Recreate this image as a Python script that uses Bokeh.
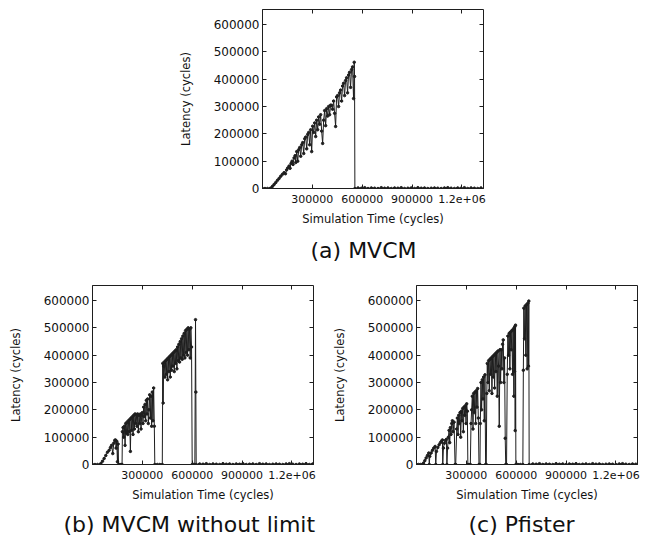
from bokeh.plotting import figure
from bokeh.layouts import column, row
from bokeh.models import FixedTicker, NumeralTickFormatter, LinearAxis, Title, Range1d
from bokeh.embed import file_html
from bokeh.resources import INLINE

# ---------------- data (thousands of cycles) ----------------
# (a) MVCM
A_TIME_K = [0, 15, 30, 45, 52, 60, 70, 80, 90, 100,
            110, 120, 130, 138, 145, 152, 160, 166, 172, 178,
            184, 190, 196, 200, 206, 212, 218, 224, 230, 236,
            242, 248, 254, 260, 266, 272, 278, 284, 290, 296,
            302, 308, 314, 320, 326, 332, 338, 344, 350, 356,
            362, 368, 374, 380, 386, 392, 398, 404, 410, 416,
            422, 428, 434, 440, 446, 452, 458, 464, 470, 476,
            482, 488, 494, 500, 506, 512, 518, 524, 530, 536,
            542, 548, 552, 554, 556, 575, 595, 615, 635, 655,
            675, 695, 715, 735, 755, 775, 795, 815, 835, 855,
            875, 895, 915, 935, 955, 975, 995, 1015, 1035, 1055,
            1075, 1095, 1115, 1135, 1155, 1175, 1195, 1215, 1235, 1255,
            1275, 1295, 1315]
A_LAT_K = [0, 0, 0, 0, 2, 8, 15, 22, 30, 37,
           45, 52, 58, 54, 68, 75, 82, 74, 92, 100,
           88, 112, 120, 95, 135, 100, 142, 150, 118, 160,
           168, 128, 182, 188, 145, 198, 205, 160, 215, 135,
           228, 205, 240, 190, 250, 215, 262, 235, 270, 210,
           165, 250, 285, 230, 292, 265, 300, 270, 305, 304,
           290, 320, 275, 227, 335, 340, 300, 350, 360, 320,
           375, 385, 340, 395, 405, 350, 415, 425, 370, 435,
           445, 329, 462, 410, 0, 2, 1, 3, 0, 2,
           1, 0, 3, 1, 2, 0, 2, 1, 3, 0,
           1, 2, 0, 3, 1, 2, 0, 1, 2, 1,
           0, 2, 3, 1, 0, 2, 1, 3, 0, 2,
           1, 0, 2]

# (b) MVCM without limit
B_TIME_K = [0, 15, 30, 45, 50, 60, 70, 80, 90, 100,
            108, 115, 122, 128, 134, 138, 142, 146, 150, 154,
            157, 165, 172, 178, 180, 184, 188, 192, 196, 200,
            204, 208, 212, 216, 220, 224, 228, 232, 236, 240,
            244, 248, 252, 256, 260, 264, 268, 272, 276, 280,
            284, 288, 292, 296, 300, 304, 308, 312, 316, 320,
            324, 328, 332, 336, 340, 344, 348, 352, 356, 360,
            364, 368, 372, 375, 390, 405, 420, 423, 425, 428,
            432, 436, 440, 444, 448, 452, 456, 460, 464, 468,
            472, 476, 480, 484, 488, 492, 496, 500, 504, 508,
            512, 516, 520, 524, 528, 532, 536, 540, 544, 548,
            552, 556, 560, 564, 568, 572, 576, 580, 584, 588,
            592, 596, 600, 608, 616, 620, 622, 624, 645, 665,
            685, 705, 725, 745, 765, 785, 805, 825, 845, 865,
            885, 905, 925, 945, 965, 985, 1005, 1025, 1045, 1065,
            1085, 1105, 1125, 1145, 1165, 1185, 1205, 1225, 1245, 1265,
            1285, 1305, 1325]
B_LAT_K = [0, 0, 0, 0, 3, 12, 22, 33, 45, 52,
           62, 70, 40, 78, 88, 90, 60, 85, 10, 75,
           0, 0, 0, 0, 120, 135, 100, 140, 70, 150,
           115, 155, 110, 160, 120, 165, 48, 170, 125, 175,
           110, 180, 130, 185, 150, 183, 140, 185, 120, 180,
           150, 185, 130, 180, 190, 150, 210, 175, 220, 160,
           235, 185, 240, 150, 200, 255, 170, 250, 140, 265,
           160, 280, 140, 0, 0, 0, 0, 370, 225, 360,
           375, 320, 380, 330, 385, 310, 390, 340, 395, 320,
           400, 345, 405, 360, 410, 340, 415, 370, 420, 350,
           430, 380, 440, 375, 450, 390, 460, 385, 470, 400,
           480, 390, 490, 410, 495, 400, 500, 420, 495, 390,
           500, 430, 0, 0, 0, 530, 265, 0, 2, 1,
           3, 0, 2, 1, 0, 3, 1, 2, 0, 2,
           1, 3, 0, 1, 2, 0, 3, 1, 2, 0,
           1, 2, 1, 0, 2, 3, 1, 0, 2, 1,
           3, 0, 2]

# (c) Pfister
C_TIME_K = [0, 12, 24, 36, 42, 50, 58, 66, 74, 77,
            80, 88, 96, 104, 112, 116, 120, 128, 136, 144,
            150, 156, 158, 162, 168, 174, 180, 183, 187, 192,
            196, 200, 204, 208, 212, 216, 220, 226, 232, 236,
            242, 246, 250, 254, 258, 262, 266, 270, 274, 278,
            282, 286, 290, 294, 298, 302, 306, 309, 316, 324,
            328, 332, 336, 340, 344, 348, 352, 356, 360, 364,
            368, 372, 376, 382, 384, 388, 392, 396, 400, 404,
            408, 412, 416, 420, 423, 426, 430, 434, 438, 442,
            446, 450, 454, 458, 462, 466, 470, 474, 478, 482,
            486, 490, 494, 498, 502, 506, 510, 514, 518, 522,
            526, 530, 534, 537, 542, 546, 550, 554, 558, 562,
            566, 570, 574, 578, 582, 586, 588, 590, 592, 594,
            596, 598, 610, 625, 640, 643, 646, 650, 654, 658,
            662, 666, 670, 674, 676, 678, 700, 720, 740, 760,
            780, 800, 820, 840, 860, 880, 900, 920, 940, 960,
            980, 1000, 1020, 1040, 1060, 1080, 1100, 1120, 1140, 1160,
            1180, 1200, 1220, 1240, 1260, 1280, 1300, 1320]
C_LAT_K = [0, 0, 0, 0, 5, 14, 24, 33, 42, 0,
           30, 42, 52, 60, 66, 0, 48, 62, 72, 80,
           85, 90, 0, 60, 78, 88, 92, 0, 60, 100,
           125, 80, 135, 110, 150, 160, 120, 155, 0, 0,
           130, 170, 110, 180, 150, 190, 100, 195, 160, 205,
           120, 210, 180, 215, 150, 222, 195, 0, 0, 0,
           150, 200, 250, 130, 260, 190, 265, 150, 270, 210,
           278, 170, 0, 0, 150, 300, 200, 310, 240, 320,
           160, 328, 0, 0, 260, 370, 300, 380, 270, 385,
           330, 390, 260, 395, 320, 400, 280, 405, 340, 410,
           250, 415, 360, 140, 420, 300, 420, 350, 440, 456,
           300, 390, 96, 0, 0, 330, 470, 400, 480, 350,
           485, 420, 490, 330, 495, 250, 500, 340, 505, 124,
           510, 0, 0, 0, 0, 345, 572, 460, 580, 400,
           585, 350, 590, 360, 598, 0, 2, 1, 3, 0,
           2, 1, 0, 3, 1, 2, 0, 2, 1, 3,
           0, 1, 2, 0, 3, 1, 2, 0, 1, 2,
           1, 0, 2, 3, 1, 0, 2, 1]

X_TICKS = [300000, 600000, 900000, 1200000]
X_TICK_LABELS = ["300000", "600000", "900000", "1.2e+06"]
Y_TICKS = [0, 100000, 200000, 300000, 400000, 500000, 600000]
X_LABEL = "Simulation Time (cycles)"
Y_LABEL = "Latency (cycles)"
TITLES = ["(a) MVCM", "(b) MVCM without limit", "(c) Pfister"]

FONT = "DejaVu Sans"
INK = "#1e1e1e"


def panel(title, t_k, lat_k, left, right, top, bottom, title_offset, title_standoff):
    assert len(t_k) == len(lat_k)
    xs = [v * 1000 for v in t_k]
    ys = [v * 1000 for v in lat_k]
    p = figure(frame_width=221, frame_height=179,
               x_range=Range1d(0, 1330000), y_range=Range1d(0, 655000),
               output_backend="svg", toolbar_location=None,
               min_border_left=left, min_border_right=right,
               min_border_top=top, min_border_bottom=bottom,
               background_fill_color="white", border_fill_color="white",
               outline_line_color=INK, outline_line_width=1)
    p.grid.visible = False

    xa = p.xaxis[0]
    xa.ticker = FixedTicker(ticks=X_TICKS)
    xa.major_label_overrides = {t: s for t, s in zip(X_TICKS, X_TICK_LABELS)}
    xa.axis_label = X_LABEL
    ya = p.yaxis[0]
    ya.ticker = FixedTicker(ticks=Y_TICKS)
    ya.formatter = NumeralTickFormatter(format="0")
    ya.axis_label = Y_LABEL
    for ax in (xa, ya):
        ax.major_tick_in = 4
        ax.major_tick_out = 0
        ax.minor_tick_line_color = None
        ax.axis_line_color = INK
        ax.major_tick_line_color = INK
        ax.major_label_text_font = FONT
        ax.major_label_text_color = "#111111"
        ax.axis_label_text_font = FONT
        ax.axis_label_text_font_style = "normal"
        ax.axis_label_text_font_size = "11.5px"
        ax.axis_label_text_color = "#111111"
    xa.major_label_text_font_size = "11px"
    ya.major_label_text_font_size = "12px"
    xa.major_label_standoff = 6
    ya.major_label_standoff = 3
    xa.axis_label_standoff = 6
    ya.axis_label_standoff = 18

    # mirrored ticks on top and right (box on); their labels are not drawn
    top_ax = LinearAxis(ticker=FixedTicker(ticks=X_TICKS), major_label_text_color=None,
                        major_label_text_font_size="1px",
                        major_tick_in=4, major_tick_out=0, minor_tick_line_color=None,
                        axis_line_color=None, major_tick_line_color=INK, major_label_standoff=0)
    right_ax = LinearAxis(ticker=FixedTicker(ticks=Y_TICKS), major_label_text_color=None,
                          major_label_text_font_size="1px",
                          major_tick_in=4, major_tick_out=0, minor_tick_line_color=None,
                          axis_line_color=None, major_tick_line_color=INK, major_label_standoff=0)
    p.add_layout(top_ax, "above")
    p.add_layout(right_ax, "right")

    p.line(xs, ys, line_color=INK, line_width=1)
    p.scatter(xs, ys, size=2.5, color=INK)

    p.add_layout(Title(text=title, align="left", offset=title_offset,
                       text_font=FONT, text_font_size="22px", text_font_style="normal",
                       text_color="#111111", standoff=title_standoff), "below")
    return p


pa = panel(TITLES[0], A_TIME_K, A_LAT_K, 262, 20, 9, 86, 48, 14)
pb = panel(TITLES[1], B_TIME_K, B_LAT_K, 92, 14, 11, 76, -29, 11)
pc = panel(TITLES[2], C_TIME_K, C_LAT_K, 89, 16, 11, 76, 52, 11)

layout = column(row(pa), row(pb, pc))
open("out.html", "w").write(file_html(layout, INLINE))
